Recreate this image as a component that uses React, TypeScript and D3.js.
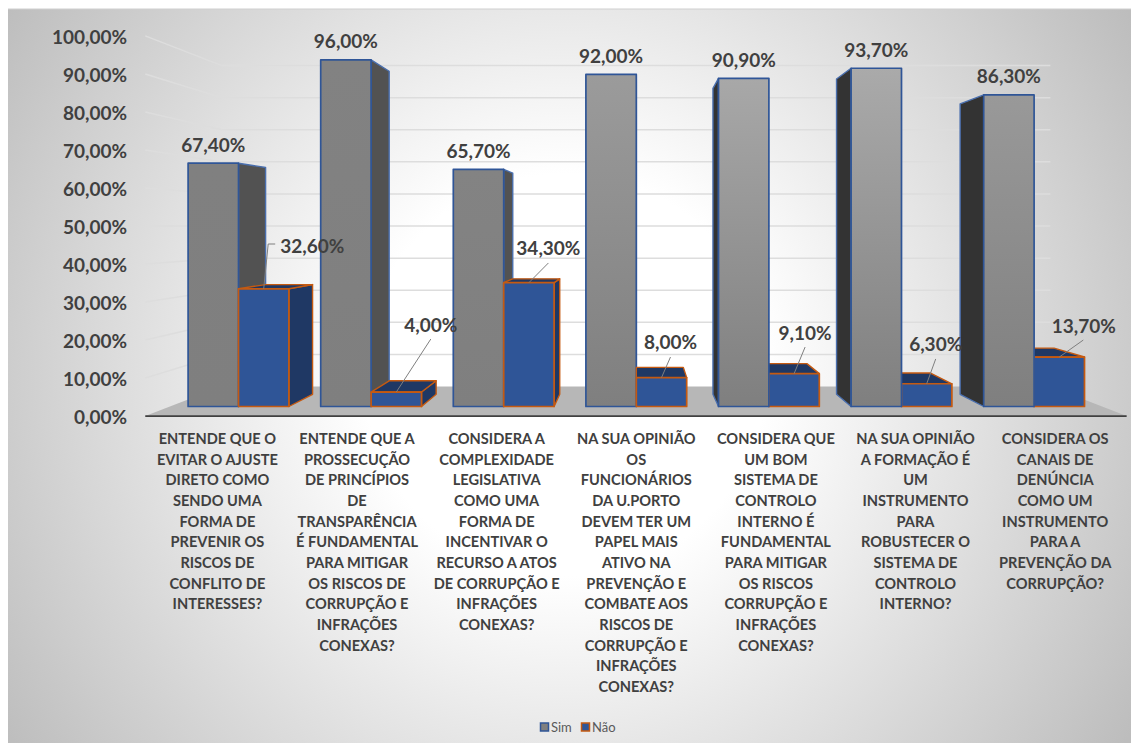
import React from 'react';
import * as d3 from 'd3';

// Inquiry results: share of "Sim" and "Não" answers per question.
const questions: string[][] = [
  ['ENTENDE QUE O', 'EVITAR O AJUSTE', 'DIRETO COMO', 'SENDO UMA', 'FORMA DE', 'PREVENIR OS', 'RISCOS DE', 'CONFLITO DE', 'INTERESSES?'],
  ['ENTENDE QUE A', 'PROSSECUÇÃO', 'DE PRINCÍPIOS', 'DE', 'TRANSPARÊNCIA', 'É FUNDAMENTAL', 'PARA MITIGAR', 'OS RISCOS DE', 'CORRUPÇÃO E', 'INFRAÇÕES', 'CONEXAS?'],
  ['CONSIDERA A', 'COMPLEXIDADE', 'LEGISLATIVA', 'COMO UMA', 'FORMA DE', 'INCENTIVAR O', 'RECURSO A ATOS', 'DE CORRUPÇÃO E', 'INFRAÇÕES', 'CONEXAS?'],
  ['NA SUA OPINIÃO', 'OS', 'FUNCIONÁRIOS', 'DA U.PORTO', 'DEVEM TER UM', 'PAPEL MAIS', 'ATIVO NA', 'PREVENÇÃO E', 'COMBATE AOS', 'RISCOS DE', 'CORRUPÇÃO E', 'INFRAÇÕES', 'CONEXAS?'],
  ['CONSIDERA QUE', 'UM BOM', 'SISTEMA DE', 'CONTROLO', 'INTERNO É', 'FUNDAMENTAL', 'PARA MITIGAR', 'OS RISCOS', 'CORRUPÇÃO E', 'INFRAÇÕES', 'CONEXAS?'],
  ['NA SUA OPINIÃO', 'A FORMAÇÃO É', 'UM', 'INSTRUMENTO', 'PARA', 'ROBUSTECER O', 'SISTEMA DE', 'CONTROLO', 'INTERNO?'],
  ['CONSIDERA OS', 'CANAIS DE', 'DENÚNCIA', 'COMO UM', 'INSTRUMENTO', 'PARA A', 'PREVENÇÃO DA', 'CORRUPÇÃO?'],
];
const simValues = [67.4, 96.0, 65.7, 92.0, 90.9, 93.7, 86.3];
const naoValues = [32.6, 4.0, 34.3, 8.0, 9.1, 6.3, 13.7];
const yTicks = d3.range(0, 101, 10);
const seriesNames = ['Sim', 'Não'];

// Lighter shade at the top of each grey column's gradient.
const simTopShades = ['#808080', '#828282', '#838383', '#9b9b9b', '#a8a8a8', '#aaaaaa', '#999999'];
// Offsets of the "Não" value labels and of their leader ends, from the bar's top centre.
const naoLabelOffsets = [[48.5, -43.8], [34.5, -68], [19.5, -34.7], [9, -36.6], [11, -41.6], [9, -39.8], [24.5, -32]];
const naoLeaderEnds = [[4.5, -44.8], [34.5, -53], [19.5, -19.7], [9, -20.6], [11, -26.6], [9, -24.8], [24, -17]];

const W = 1131;
const H = 743;
const INK = '#404040';
const FONT = 'Lato, Carlito, sans-serif';
const VANISH = { x: 637, y: 226.5 };
const DEPTH = { axis: 1.053, bar: 1, barBack: 0.932, wall: 0.889 };

const y = d3.scaleLinear().domain([0, 100]).range([406.5, 45.5]);
const groupX = d3.scaleBand<number>().domain(d3.range(questions.length)).range([172.2, 1100.4]);
const barX = d3.scaleBand<string>().domain(seriesNames).range([0, groupX.bandwidth()]).paddingInner(0).paddingOuter(0.3155);

const percent = d3.formatLocale({ decimal: ',', thousands: '.', grouping: [3], currency: ['', ''] }).format('.2f');
const fmt = (v: number) => `${percent(v)}%`;

// Perspective projection towards the vanishing point; k = 1 is the plane of the bar fronts.
const px = (X: number, k: number) => VANISH.x + (X - VANISH.x) * k;
const py = (v: number, k: number) => VANISH.y + (y(v) - VANISH.y) * k;
const poly = (pts: [number, number][]) => `M${pts.map((p) => p.join(',')).join('L')}Z`;

const WALL_LEFT = 170;
const WALL_RIGHT = 1102;

function Column({ x0, x1, value, front, side, topFace, stroke, sideStroke }: any) {
  const k = DEPTH.barBack;
  const yt = y(value);
  const yb = y(0);
  const sideX = x1 <= VANISH.x ? x1 : x0;
  const showSide = x1 <= VANISH.x || x0 > VANISH.x;
  return (
    <g strokeLinejoin="round">
      {showSide && (
        <path
          d={poly([[sideX, yt], [px(sideX, k), py(value, k)], [px(sideX, k), py(0, k)], [sideX, yb]])}
          fill={side}
          stroke={sideStroke}
          strokeWidth={1.4}
        />
      )}
      {yt > VANISH.y && (
        <path
          d={poly([[x0, yt], [px(x0, k), py(value, k)], [px(x1, k), py(value, k)], [x1, yt]])}
          fill={topFace}
          stroke={sideStroke}
          strokeWidth={1.4}
        />
      )}
      <rect x={x0} y={yt} width={x1 - x0} height={yb - yt} fill={front} stroke={stroke} strokeWidth={1.7} />
    </g>
  );
}

export default function App() {
  return (
    <svg width={W} height={H} style={{ position: 'absolute', left: 0, top: 0, fontFamily: FONT }}>
      <defs>
        <radialGradient id="chartBg" gradientUnits="userSpaceOnUse" cx={565} cy={375} r={670}>
          <stop offset="0" stopColor="#ffffff" />
          <stop offset="0.3" stopColor="#ffffff" />
          <stop offset="1" stopColor="#bdbdbd" />
        </radialGradient>
        {simTopShades.map((shade, i) => (
          <linearGradient key={i} id={`simFill${i}`} x1="0" y1="0" x2="0" y2="1">
            <stop offset="0" stopColor={shade} />
            <stop offset="1" stopColor="#7f7f7f" />
          </linearGradient>
        ))}
      </defs>

      <rect x={8} y={9} width={W - 8} height={H - 9} fill="url(#chartBg)" />
      <line x1={8} x2={W} y1={9} y2={9} stroke="#cfcfcf" />

      {/* back wall and side wall gridlines */}
      {yTicks.slice(1).map((t) => (
        <g key={t} stroke="#dddddd" strokeWidth={1.5} fill="none">
          <line x1={px(WALL_LEFT, DEPTH.wall)} x2={px(WALL_RIGHT, DEPTH.wall)} y1={py(t, DEPTH.wall)} y2={py(t, DEPTH.wall)} />
          <line x1={px(WALL_LEFT, DEPTH.axis)} x2={px(WALL_LEFT, DEPTH.wall)} y1={py(t, DEPTH.axis)} y2={py(t, DEPTH.wall)} />
        </g>
      ))}

      {/* floor */}
      <path
        d={poly([
          [px(WALL_LEFT, DEPTH.axis), py(0, DEPTH.axis)],
          [px(WALL_LEFT, DEPTH.wall), py(0, DEPTH.wall)],
          [px(WALL_RIGHT, DEPTH.wall), py(0, DEPTH.wall)],
          [px(WALL_RIGHT, DEPTH.axis), py(0, DEPTH.axis)],
        ])}
        fill="#b7b7b7"
      />
      <line
        x1={px(WALL_LEFT, DEPTH.axis)}
        x2={px(WALL_RIGHT, DEPTH.axis)}
        y1={py(0, DEPTH.axis)}
        y2={py(0, DEPTH.axis)}
        stroke="#404040"
        strokeWidth={1.8}
      />

      {/* columns: the one nearer the vanishing point is painted last */}
      {questions.map((_, i) => {
        const g0 = groupX(i)!;
        const simX0 = g0 + barX('Sim')!;
        const naoX0 = g0 + barX('Não')!;
        const w = barX.bandwidth();
        const sim = (
          <Column
            key="sim"
            x0={simX0}
            x1={simX0 + w}
            value={simValues[i]}
            front={`url(#simFill${i})`}
            side={simX0 + w <= VANISH.x ? '#525252' : '#333333'}
            topFace="#7f7f7f"
            stroke="#2f5597"
            sideStroke="#4a6fae"
          />
        );
        const nao = (
          <Column
            key="nao"
            x0={naoX0}
            x1={naoX0 + w}
            value={naoValues[i]}
            front="#2f5597"
            side="#1f3864"
            topFace="#1f3864"
            stroke="#c55a11"
            sideStroke="#c55a11"
          />
        );
        return <g key={i}>{simX0 + w <= VANISH.x ? [sim, nao] : [nao, sim]}</g>;
      })}

      {/* leaders for the "Não" labels */}
      {naoValues.map((v, i) => {
        const ax = groupX(i)! + barX('Não')! + barX.bandwidth() / 2;
        const ay = y(v);
        const [ex, ey] = naoLeaderEnds[i];
        const path = d3.path();
        path.moveTo(ax, ay);
        path.lineTo(ax + ex, ay + ey);
        if (i === 0) path.lineTo(ax + ex + 7, ay + ey);
        return <path key={i} d={path.toString()} fill="none" stroke="#7f7f7f" strokeWidth={1} />;
      })}

      {/* value labels */}
      <g fontSize={19} fontWeight={700} fill={INK} textAnchor="middle" dominantBaseline="central">
        {simValues.map((v, i) => (
          <text key={i} x={groupX(i)! + barX('Sim')! + barX.bandwidth() / 2} y={y(v) - 19}>
            {fmt(v)}
          </text>
        ))}
        {naoValues.map((v, i) => (
          <text
            key={i}
            x={groupX(i)! + barX('Não')! + barX.bandwidth() / 2 + naoLabelOffsets[i][0]}
            y={y(v) + naoLabelOffsets[i][1]}
          >
            {fmt(v)}
          </text>
        ))}
      </g>

      {/* value axis */}
      <g fontSize={19} fontWeight={700} fill={INK} textAnchor="end" dominantBaseline="central">
        {yTicks.map((t) => (
          <text key={t} x={127} y={py(t, DEPTH.axis) + 0.5}>
            {fmt(t)}
          </text>
        ))}
      </g>

      {/* category labels */}
      <g fontSize={14.6} fontWeight={700} fill={INK} textAnchor="middle">
        {questions.map((lines, i) => (
          <text key={i} x={px(groupX(i)! + groupX.bandwidth() / 2, DEPTH.axis)} y={444}>
            {lines.map((line, j) => (
              <tspan key={j} x={px(groupX(i)! + groupX.bandwidth() / 2, DEPTH.axis)} y={444 + j * 20.67}>
                {line}
              </tspan>
            ))}
          </text>
        ))}
      </g>

      {/* legend */}
      <g fontSize={13} fill="#595959">
        <rect x={540.5} y={723} width={8} height={8} fill="#7f7f7f" stroke="#2f5597" strokeWidth={1.5} />
        <text x={551} y={731.5}>{seriesNames[0]}</text>
        <rect x={581.5} y={723} width={8} height={8} fill="#2f5597" stroke="#c55a11" strokeWidth={1.5} />
        <text x={592} y={731.5}>{seriesNames[1]}</text>
      </g>
    </svg>
  );
}
